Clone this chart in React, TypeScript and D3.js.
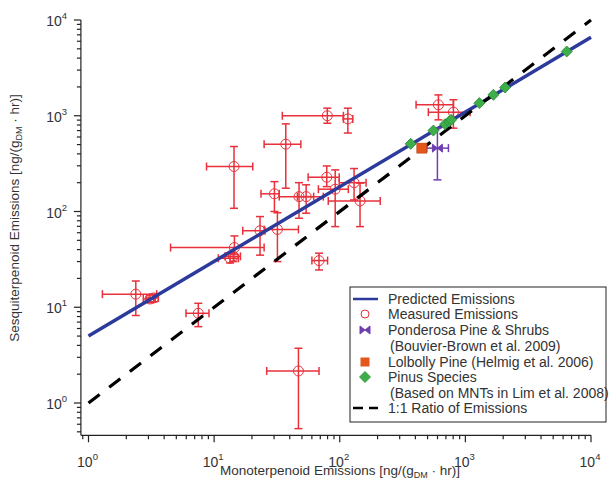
import React from "react";
import * as d3 from "d3";

// Measured emissions: x, y, x-error low/high, y-error low/high
const measX = [79.6, 116, 14.4, 37.2, 78.8, 92, 130, 145, 30.2, 47.4, 54, 23.2, 31.9, 14.5, 13.4, 14.2, 68.4, 2.38, 3.09, 3.3, 7.48, 46.9, 610, 803];
const measY = [1000, 927, 295, 505, 228, 171, 200, 129, 153, 143, 143, 63, 65, 42, 32.5, 34, 30.7, 13.7, 12.2, 12.5, 8.65, 2.16, 1300, 1090];
const measXLo = [34.9, 107, 8.7, 25, 56, 67.6, 99, 81, 23.6, 33, 46, 16.9, 25, 4.5, 10.8, 12.2, 60, 1.29, 2.73, 2.9, 5.97, 26.2, 405, 507];
const measXHi = [107, 127, 20.3, 49, 99, 117, 162, 210, 33, 74, 62, 25.4, 46.9, 25, 15.6, 16.2, 80, 3.49, 3.4, 3.6, 9.1, 68.4, 803, 1090];
const measYLo = [835, 660, 108, 175, 182, 69.5, 132, 69.5, 100, 85, 96, 35, 30, 35.8, 29, 30, 24.5, 8.2, 11.2, 11.4, 6.27, 0.54, 906, 742];
const measYHi = [1200, 1200, 477, 823, 299, 272, 281, 198, 205, 200, 190, 88.5, 97, 55.6, 36.5, 37, 36.7, 18.8, 13.4, 13.6, 11, 3.73, 1650, 1470];

// Pinus species (green diamonds)
const pinusX = [367, 556, 689, 742, 770, 1292, 1671, 2070, 6410];
const pinusY = [509, 700, 817, 869, 906, 1355, 1653, 1972, 4690];

// Ponderosa Pine & Shrubs (purple)
const pondX = [599];
const pondY = [459];
const pondXLo = [493];
const pondXHi = [733];
const pondYLo = [214];
const pondYHi = [742];

// Lolbolly Pine (orange)
const lolX = [450];
const lolY = [459];

// Predicted emissions: y = a * x^b
const predA = 5;
const predB = 0.78;
const lineX = [1, 10000];

const yTickLabels = ["10", "10", "10", "10", "10"];
const tickExps = [0, 1, 2, 3, 4];

const legendLabels = [
  "Predicted Emissions",
  "Measured Emissions",
  "Ponderosa Pine & Shrubs",
  "(Bouvier-Brown et al. 2009)",
  "Lolbolly Pine (Helmig et al. 2006)",
  "Pinus Species",
  "(Based on MNTs in Lim et al. 2008)",
  "1:1 Ratio of Emissions",
];

const RED = "#e8313b";
const BLUE = "#2c3a9c";
const GREEN = "#3dae49";
const ORANGE = "#e4561c";
const PURPLE = "#6f3fb0";
const TXT = "#333";
const FONT = "'Liberation Sans', Arial, sans-serif";

export default function App() {
  const x = d3.scaleLog().domain([1, 1e4]).range([88.5, 591]);
  const y = d3.scaleLog().domain([1, 1e4]).range([403, 20]);
  const xMin = 0.87;
  const yMin = 0.46;
  const axX0 = x(xMin);
  const axY0 = y(yMin);

  const minorTicks: number[] = [];
  for (let e = -1; e <= 3; e++) {
    for (let m = 1; m <= 9; m++) minorTicks.push(m * Math.pow(10, e));
  }
  minorTicks.push(1e4);
  const yTicks = minorTicks.filter((v) => v >= yMin && v <= 1e4);
  const xTicks = minorTicks.filter((v) => v >= xMin && v <= 1e4);
  const isMajor = (v: number) => Math.abs(Math.log10(v) - Math.round(Math.log10(v))) < 1e-9;

  const line = d3
    .line<number[]>()
    .x((d) => x(d[0]))
    .y((d) => y(d[1]));
  const predPts = lineX.map((v) => [v, predA * Math.pow(v, predB)]);
  const onePts = lineX.map((v) => [v, v]);

  const cap = 4;
  const errBars = (
    cx: number, cy: number, xl: number, xh: number, yl: number, yh: number, color: string, key: string
  ) => (
    <g key={key} stroke={color} strokeWidth={1.5} fill="none">
      <line x1={x(xl)} x2={x(xh)} y1={y(cy)} y2={y(cy)} />
      <line x1={x(xl)} x2={x(xl)} y1={y(cy) - cap} y2={y(cy) + cap} />
      <line x1={x(xh)} x2={x(xh)} y1={y(cy) - cap} y2={y(cy) + cap} />
      <line x1={x(cx)} x2={x(cx)} y1={y(yl)} y2={y(yh)} />
      <line x1={x(cx) - cap} x2={x(cx) + cap} y1={y(yl)} y2={y(yl)} />
      <line x1={x(cx) - cap} x2={x(cx) + cap} y1={y(yh)} y2={y(yh)} />
    </g>
  );

  const diamond = (cx: number, cy: number, key: string) => (
    <path
      key={key}
      d={`M${cx},${cy - 5.5}L${cx + 5.5},${cy}L${cx},${cy + 5.5}L${cx - 5.5},${cy}Z`}
      fill={GREEN}
      stroke="#2a8a35"
      strokeWidth={0.8}
    />
  );
  const bowtie = (cx: number, cy: number, key: string) => (
    <g key={key} fill={PURPLE} stroke={PURPLE} strokeWidth={1}>
      <path d={`M${cx - 5},${cy - 4}L${cx},${cy}L${cx - 5},${cy + 4}Z`} />
      <path d={`M${cx + 5},${cy - 4}L${cx},${cy}L${cx + 5},${cy + 4}Z`} />
    </g>
  );

  const legX = 350;
  const legY = 287;
  const rowY = [299, 314, 330, 346, 362, 377, 393, 408];

  return (
    <div style={{ position: "absolute", left: 0, top: 0 }}>
      <svg width={610} height={478} style={{ display: "block", background: "#fff" }} fontFamily={FONT}>
        {/* axes */}
        <g stroke="#222" strokeWidth={1.2} fill="none">
          <line x1={axX0} x2={axX0} y1={y(1e4)} y2={axY0} />
          <line x1={axX0} x2={x(1e4)} y1={axY0} y2={axY0} />
          {yTicks.map((v, i) => (
            <line key={"yt" + i} x1={axX0 - (isMajor(v) ? 7 : 4)} x2={axX0} y1={y(v)} y2={y(v)} />
          ))}
          {xTicks.map((v, i) => (
            <line key={"xt" + i} x1={x(v)} x2={x(v)} y1={axY0} y2={axY0 + (isMajor(v) ? 7 : 4)} />
          ))}
        </g>
        {/* tick labels */}
        <g fill={TXT} fontSize={14}>
          {tickExps.map((e, i) => (
            <text key={"yl" + i} x={67} y={y(Math.pow(10, e)) + 6} textAnchor="end">
              {yTickLabels[i]}
              <tspan fontSize={9.5} dy={-7}>{e}</tspan>
            </text>
          ))}
          {tickExps.map((e, i) => (
            <text key={"xl" + i} x={x(Math.pow(10, e)) - 1} y={467} textAnchor="middle">
              {yTickLabels[i]}
              <tspan fontSize={9.5} dy={-7}>{e}</tspan>
            </text>
          ))}
        </g>
        {/* axis titles */}
        <text x={340} y={475} textAnchor="middle" fontSize={13.5} fill={TXT}>
          Monoterpenoid Emissions [ng/(g
          <tspan fontSize={9} dy={3}>DM</tspan>
          <tspan dy={-3}> · hr)]</tspan>
        </text>
        <text
          transform="translate(19,218) rotate(-90)"
          textAnchor="middle"
          fontSize={13.5}
          fill={TXT}
        >
          Sesquiterpenoid Emissions [ng/(g
          <tspan fontSize={9} dy={3}>DM</tspan>
          <tspan dy={-3}> · hr)]</tspan>
        </text>

        {/* measured */}
        {measX.map((v, i) => errBars(v, measY[i], measXLo[i], measXHi[i], measYLo[i], measYHi[i], RED, "me" + i))}
        {measX.map((v, i) => (
          <circle key={"mc" + i} cx={x(v)} cy={y(measY[i])} r={5} fill="none" stroke={RED} strokeWidth={1} />
        ))}

        {/* lines */}
        <path d={line(predPts) || ""} stroke={BLUE} strokeWidth={3.5} fill="none" />
        <path d={line(onePts) || ""} stroke="#000" strokeWidth={3.2} strokeDasharray="14,12" fill="none" />

        {/* ponderosa */}
        {pondX.map((v, i) => errBars(v, pondY[i], pondXLo[i], pondXHi[i], pondYLo[i], pondYHi[i], PURPLE, "pe" + i))}
        {pondX.map((v, i) => bowtie(x(v), y(pondY[i]), "pb" + i))}
        {/* lolbolly */}
        {lolX.map((v, i) => (
          <rect key={"lo" + i} x={x(v) - 5} y={y(lolY[i]) - 5} width={10} height={10} fill={ORANGE} stroke="#b8410f" strokeWidth={0.6} />
        ))}
        {/* pinus */}
        {pinusX.map((v, i) => diamond(x(v), y(pinusY[i]), "pd" + i))}

        {/* legend */}
        <rect x={legX} y={legY} width={256} height={135} fill="#fff" stroke="#222" strokeWidth={1} />
        <line x1={353} x2={378} y1={rowY[0]} y2={rowY[0]} stroke={BLUE} strokeWidth={2.5} />
        <circle cx={365} cy={rowY[1]} r={4} fill="none" stroke={RED} strokeWidth={1} />
        {bowtie(365, rowY[2], "lgb")}
        <rect x={360.5} y={rowY[4] - 4.5} width={9} height={9} fill={ORANGE} />
        {diamond(365, rowY[5], "lgd")}
        <line x1={353} x2={378} y1={rowY[7]} y2={rowY[7]} stroke="#000" strokeWidth={2.5} strokeDasharray="10,6" />
        <g fontSize={14} fill={TXT}>
          {legendLabels.map((t, i) => (
            <text key={"lt" + i} x={t.startsWith("(") ? 390 : 388} y={rowY[i] + 5}>
              {t}
            </text>
          ))}
        </g>
      </svg>
    </div>
  );
}
